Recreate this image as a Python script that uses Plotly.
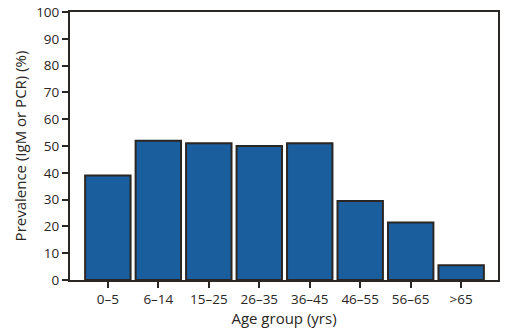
import plotly.graph_objects as go

categories = ["0–5", "6–14", "15–25", "26–35", "36–45", "46–55", "56–65", ">65"]
prevalence = [39, 52, 51, 50, 51, 29.5, 21.5, 5.5]
y_ticks = [0, 10, 20, 30, 40, 50, 60, 70, 80, 90, 100]

dark = "#2a2623"
font_family = "Open Sans, Liberation Sans, sans-serif"

fig = go.Figure(go.Bar(
    x=list(range(len(categories))),
    y=prevalence,
    width=0.9,
    marker=dict(color="#1a5e9e", line=dict(color=dark, width=2)),
))

fig.update_layout(
    width=514, height=330,
    margin=dict(l=70, r=16, t=12, b=50, autoexpand=False),
    plot_bgcolor="white", paper_bgcolor="white",
    showlegend=False,
    font=dict(family=font_family, size=13.5, color=dark),
)
fig.update_xaxes(
    tickmode="array", tickvals=list(range(len(categories))), ticktext=categories,
    range=[-0.75, 7.73], automargin=False,
    showline=True, linecolor=dark, linewidth=2, mirror=True,
    ticks="outside", ticklen=6, tickwidth=2, tickcolor=dark,
    showgrid=False, zeroline=False,
    title=dict(text="Age group (yrs)", font=dict(size=15), standoff=4),
)
fig.update_yaxes(
    range=[0, 100], tickvals=y_ticks, automargin=False,
    showline=True, linecolor=dark, linewidth=2, mirror=True,
    ticks="outside", ticklen=6, tickwidth=2, tickcolor=dark,
    showgrid=False, zeroline=False,
    title=dict(text="Prevalence (IgM or PCR) (%)", font=dict(size=15), standoff=6),
)

fig.write_html("out.html")
